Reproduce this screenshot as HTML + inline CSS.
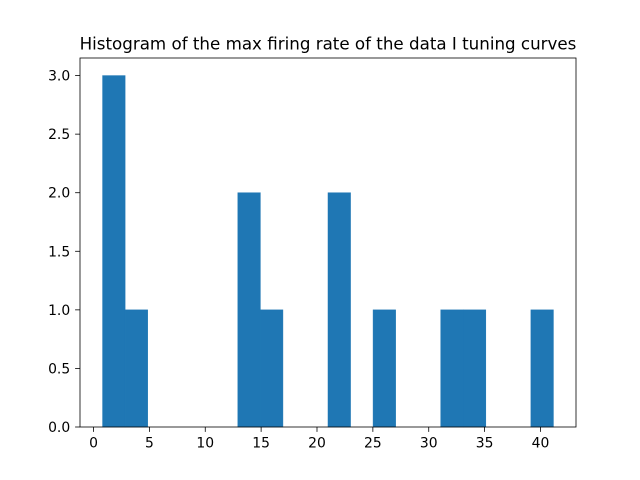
<!DOCTYPE html>
<html><head><meta charset="utf-8"><style>
body{margin:0;background:#fff;}
svg{display:block;font-family:"DejaVu Sans","Liberation Sans",sans-serif;}
</style></head><body>
<svg id="c" width="640" height="480"></svg>
<script>
const binStart = 0.81;
const binWidth = 2.0175;
const counts = [3,1,0,0,0,0,2,1,0,0,2,0,1,0,0,1,1,0,0,1];
const xTicks = [0,5,10,15,20,25,30,35,40];
const yTicks = [0.0,0.5,1.0,1.5,2.0,2.5,3.0];
const titleText = "Histogram of the max firing rate of the data I tuning curves";

const L=80,R=576,T=58,B=427;
const xmin=-1.21,xmax=43.18,ymin=0,ymax=3.15;
const sx=v=>L+(v-xmin)/(xmax-xmin)*(R-L);
const sy=v=>B-(v-ymin)/(ymax-ymin)*(B-T);
const svg=document.getElementById('c');
const NS='http://www.w3.org/2000/svg';
function mk(tag,attrs,parent){const e=document.createElementNS(NS,tag);for(const k in attrs)e.setAttribute(k,attrs[k]);(parent||svg).appendChild(e);return e;}

const bars=mk('g',{});


counts.forEach((c,i)=>{
  if(c<=0)return;
  const x0=sx(binStart+i*binWidth),x1=sx(binStart+(i+1)*binWidth);
  const r=mk('rect',{x:x0,y:sy(c),width:x1-x0,height:sy(0)-sy(c),fill:'#1f77b4',stroke:'#1f77b4','stroke-width':0.5},bars);
  
  
});
const frame=mk('rect',{x:L,y:T,width:R-L,height:B-T,fill:'none',stroke:'#000','stroke-width':0.8});



xTicks.forEach(t=>{
  const x=sx(t);
  mk('line',{x1:x,x2:x,y1:B,y2:B+4.9,stroke:'#000','stroke-width':0.8});
  const tx=mk('text',{x:x,y:B+20.5,'font-size':13.9,'text-anchor':'middle'});
  tx.textContent=t;
  
  
});
yTicks.forEach(t=>{
  const y=sy(t);
  mk('line',{x1:L-4.9,x2:L,y1:y,y2:y,stroke:'#000','stroke-width':0.8});
  const tx=mk('text',{x:L-9.8,y:y+5,'font-size':13.9,'text-anchor':'end'});
  tx.textContent=t.toFixed(1);
  
  
});
const ti=mk('text',{x:(L+R)/2,y:T-8.5,'font-size':16.7,'text-anchor':'middle'});
ti.textContent=titleText;


</script>
</body></html>
